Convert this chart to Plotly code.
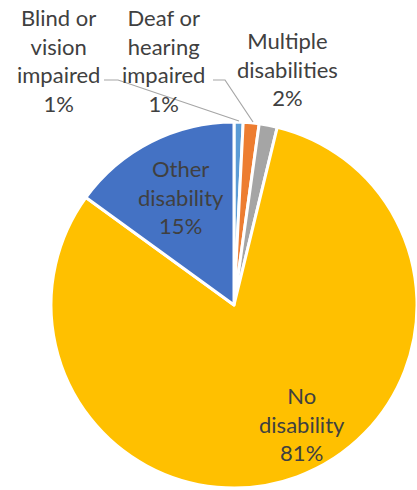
import plotly.graph_objects as go

# Share of respondents by disability status (percent)
categories = ["Blind or vision impaired", "Deaf or hearing impaired",
              "Multiple disabilities", "No disability", "Other disability"]
values = [0.8, 1.4, 1.6, 81.2, 15.0]
label_lines = [["Blind or", "vision", "impaired"],
               ["Deaf or", "hearing", "impaired"],
               ["Multiple", "disabilities"],
               ["No", "disability"],
               ["Other", "disability"]]
colors = ["#5B9BD5", "#ED7D31", "#A5A5A5", "#FFC000", "#4472C4"]

W, H = 417, 490

# label anchor points (pixels) and leader lines (pixels) for the small slices
label_pos = [(58, 60), (163, 60), (287, 69), (302, 424), (181, 197)]
leaders = {0: [(104, 80), (118, 80), (239, 121)],
           1: [(213, 80), (225, 80), (253, 122)]}

total = sum(values)
pcts = [round(v / total * 100) for v in values]

fig = go.Figure(go.Pie(
    labels=categories,
    values=values,
    sort=False,
    direction="clockwise",
    rotation=0,
    textinfo="none",
    marker=dict(colors=colors, line=dict(color="white", width=3)),
    domain=dict(x=[51 / W, 1], y=[1 - 489 / H, 1 - 121 / H]),
    showlegend=False,
))

for i, (lines, (px, py)) in enumerate(zip(label_lines, label_pos)):
    fig.add_annotation(
        x=px / W, y=1 - py / H, xref="paper", yref="paper",
        text="<br>".join(lines + [f"{pcts[i]}%"]),
        showarrow=False, xanchor="center", yanchor="middle",
        font=dict(family="Lato", size=22, color="#404040"),
    )

for i, pts in leaders.items():
    path = "M " + " L ".join(f"{x / W},{1 - y / H}" for x, y in pts)
    fig.add_shape(type="path", path=path, xref="paper", yref="paper",
                  line=dict(color="#A6A6A6", width=1.2))

fig.update_layout(
    width=W, height=H,
    margin=dict(l=0, r=0, t=0, b=0),
    paper_bgcolor="white",
    plot_bgcolor="white",
)

fig.write_html("out.html")
